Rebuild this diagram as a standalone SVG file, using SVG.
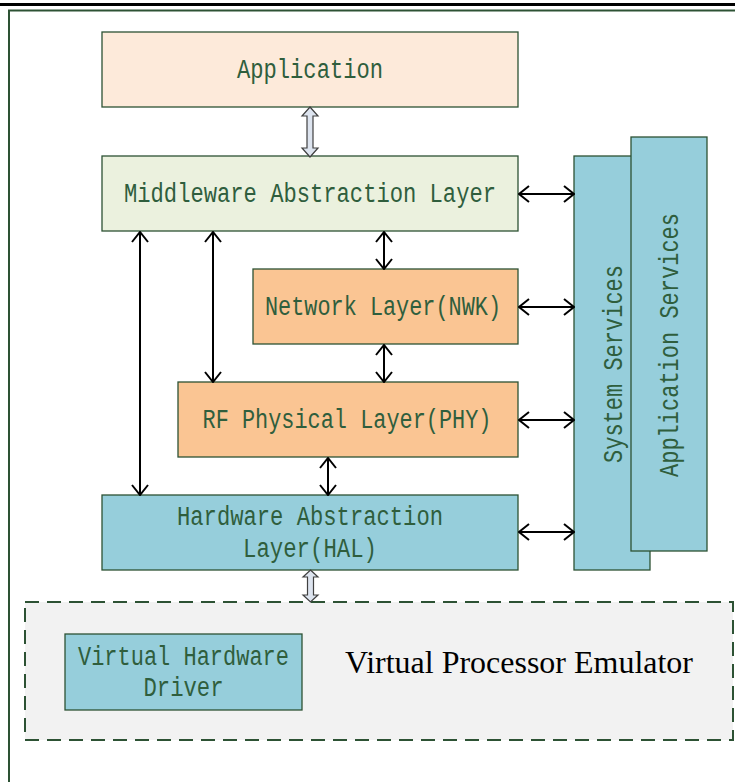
<svg xmlns="http://www.w3.org/2000/svg" width="735" height="782" viewBox="0 0 735 782">
<defs>
<style>
.box{stroke:#2D5234;stroke-width:1.3}
.t{font-family:"Liberation Mono","DejaVu Sans Mono",monospace;font-size:27px;fill:#2F5E3D;text-anchor:middle}
.c{stroke:#000;stroke-width:2;fill:none;marker-start:url(#ah);marker-end:url(#ah)}
.hollow{fill:#DDE4EF;stroke:#404040;stroke-width:1.2}
</style>
<marker id="ah" viewBox="0 0 12 18" refX="11" refY="9" markerWidth="12" markerHeight="18" markerUnits="userSpaceOnUse" orient="auto-start-reverse">
<path d="M1,1 L11,9 L1,17" fill="none" stroke="#000" stroke-width="2"/>
</marker>
</defs>
<rect x="0" y="0" width="735" height="782" fill="#fff"/>
<line x1="0" y1="4.5" x2="735" y2="4.5" stroke="#000" stroke-width="3"/>
<path d="M9,782 V10.5 H735" fill="none" stroke="#2D5234" stroke-width="2"/>

<g id="emulator">
<rect x="25" y="602" width="708" height="138" fill="#F2F2F2" stroke="#2D5234" stroke-width="2" stroke-dasharray="14,8"/>
<text x="519" y="673" font-family="Liberation Serif,serif" font-size="31" fill="#000" text-anchor="middle" textLength="348" lengthAdjust="spacingAndGlyphs">Virtual Processor Emulator</text>
</g>
<g id="vhd">
<rect class="box" x="65" y="634" width="237" height="76" fill="#96CEDB"/>
<text class="t" x="183.5" y="665" textLength="211" lengthAdjust="spacingAndGlyphs">Virtual Hardware</text>
<text class="t" x="183.5" y="696" textLength="80" lengthAdjust="spacingAndGlyphs">Driver</text>
</g>

<g id="application">
<rect class="box" x="102" y="32" width="416" height="75" fill="#FDEADA"/>
<text class="t" x="310" y="78" textLength="146" lengthAdjust="spacingAndGlyphs">Application</text>
</g>
<g id="middleware">
<rect class="box" x="102" y="156" width="416" height="75" fill="#EBF1DE"/>
<text class="t" x="310" y="202" textLength="372" lengthAdjust="spacingAndGlyphs">Middleware Abstraction Layer</text>
</g>
<g id="nwk">
<rect class="box" x="253" y="269" width="265" height="75" fill="#FAC593"/>
<text class="t" x="383" y="315" textLength="236" lengthAdjust="spacingAndGlyphs">Network Layer(NWK)</text>
</g>
<g id="phy">
<rect class="box" x="178" y="382" width="340" height="75" fill="#FAC593"/>
<text class="t" x="347" y="428" textLength="289" lengthAdjust="spacingAndGlyphs">RF Physical Layer(PHY)</text>
</g>
<g id="hal">
<rect class="box" x="102" y="495" width="416" height="75" fill="#96CEDB"/>
<text class="t" x="310" y="525" textLength="266" lengthAdjust="spacingAndGlyphs">Hardware Abstraction</text>
<text class="t" x="310" y="557" textLength="134" lengthAdjust="spacingAndGlyphs">Layer(HAL)</text>
</g>
<g id="system-services">
<rect class="box" x="574" y="156" width="76" height="414" fill="#96CEDB"/>
<text class="t" transform="translate(622,364) rotate(-90)" textLength="198" lengthAdjust="spacingAndGlyphs">System Services</text>
</g>
<g id="application-services">
<rect class="box" x="631" y="137" width="76" height="414" fill="#96CEDB"/>
<text class="t" transform="translate(678,345) rotate(-90)" textLength="264" lengthAdjust="spacingAndGlyphs">Application Services</text>
</g>

<g id="connectors">
<path class="hollow" d="M310,107 L318,116 L313,116 L313,148 L318,148 L310,157 L302,148 L307,148 L307,116 L302,116 Z"/>
<path class="hollow" d="M310.5,570 L318,577 L313.5,577 L313.5,595 L318,595 L310.5,602 L303,595 L307.5,595 L307.5,577 L303,577 Z"/>
<line class="c" x1="519" y1="194" x2="574" y2="194"/>
<line class="c" x1="519" y1="307" x2="574" y2="307"/>
<line class="c" x1="519" y1="420" x2="574" y2="420"/>
<line class="c" x1="519" y1="532" x2="574" y2="532"/>
<line class="c" x1="140" y1="232" x2="140" y2="495"/>
<line class="c" x1="213" y1="232" x2="213" y2="382"/>
<line class="c" x1="384" y1="232" x2="384" y2="269"/>
<line class="c" x1="384" y1="345" x2="384" y2="382"/>
<line class="c" x1="328" y1="458" x2="328" y2="495"/>
</g>
</svg>
